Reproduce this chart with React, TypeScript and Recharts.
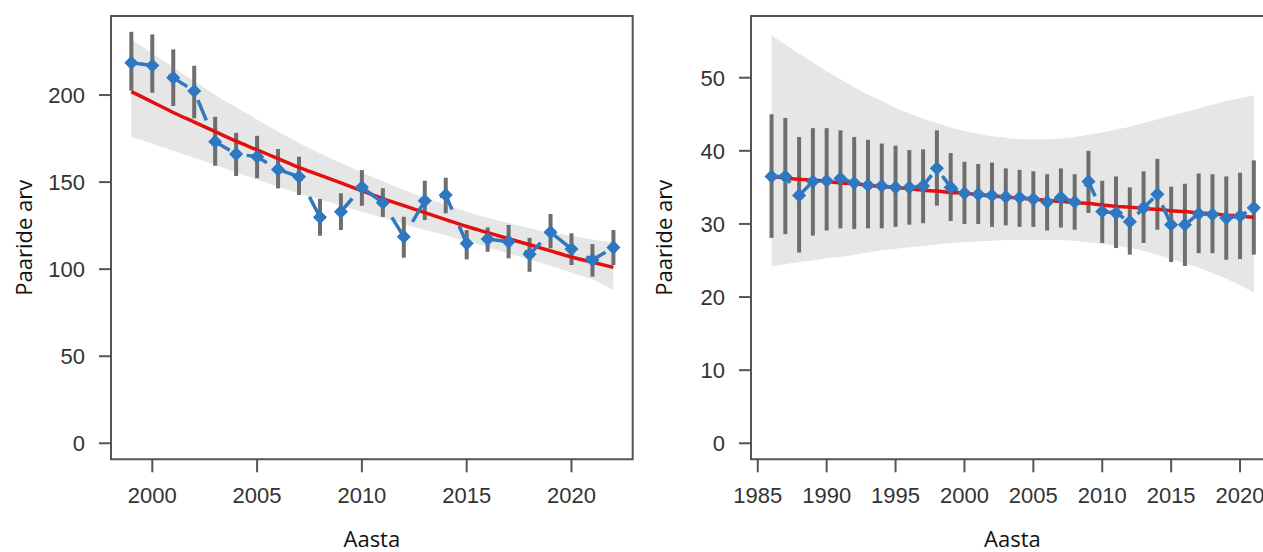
import React from "react";
import {
  ComposedChart,
  Line,
  Area,
  XAxis,
  YAxis,
  ErrorBar,
  ReferenceArea,
} from "recharts";

// --- left panel: 1999-2022 ---
const yearsA = [
  1999, 2000, 2001, 2002, 2003, 2004, 2005, 2006, 2007, 2008, 2009, 2010,
  2011, 2012, 2013, 2014, 2015, 2016, 2017, 2018, 2019, 2020, 2021, 2022,
];
const countA = [
  218.5, 217, 209.9, 202.3, 173.2, 166.1, 164.6, 157.3, 153.1, 129.8, 133, 147,
  138.2, 118.6, 139.3, 142.6, 114.8, 117.3, 115.8, 108.5, 121.2, 111.6, 105.3, 112.5,
];
const lowA = [
  202.5, 201.3, 193.7, 186.6, 159.4, 153.5, 152.2, 146.4, 142.6, 119.2, 122.5, 136.4,
  130, 106.6, 128.2, 132.1, 105.6, 110, 106.2, 98.5, 112, 102.4, 95.7, 102.4,
];
const highA = [
  236.3, 234.8, 226.2, 216.8, 187.5, 178.3, 176.6, 169, 164.6, 140.3, 143.6, 156.9,
  146.5, 130.1, 150.8, 152.5, 122.5, 124, 125.4, 118, 131.7, 120.6, 114.4, 122.5,
];
const fitA = [
  202, 196, 190, 184.5, 179, 173.5, 168.5, 163.5, 158.5, 154, 149.5, 145,
  140.5, 136.5, 132.5, 128.5, 124.5, 121, 117.5, 114, 110.5, 107, 104, 101,
];
const bandLowA = [
  176, 172, 168, 164, 160, 155.5, 151.5, 147.5, 143.5, 140, 136.5, 133,
  129.5, 126, 122.5, 119.5, 116, 112.5, 109, 105.5, 102, 98, 94, 88,
];
const bandHighA = [
  232, 224, 216, 208, 200, 193, 186, 179, 172.5, 166.5, 161, 155.5,
  150.5, 145.5, 141, 137, 133, 129.5, 126.5, 123.5, 121, 119, 117, 115.5,
];
const xTicksA = [2000, 2005, 2010, 2015, 2020];
const yTicksA = [0, 50, 100, 150, 200];

// --- right panel: 1986-2021 ---
const yearsB = [
  1986, 1987, 1988, 1989, 1990, 1991, 1992, 1993, 1994, 1995, 1996, 1997,
  1998, 1999, 2000, 2001, 2002, 2003, 2004, 2005, 2006, 2007, 2008, 2009,
  2010, 2011, 2012, 2013, 2014, 2015, 2016, 2017, 2018, 2019, 2020, 2021,
];
const countB = [
  36.5, 36.5, 33.9, 35.8, 35.9, 36.2, 35.6, 35.3, 35.2, 35.0, 35.0, 35.2,
  37.6, 35.0, 34.2, 34.05, 33.9, 33.7, 33.6, 33.4, 33.0, 33.6, 33.0, 35.8,
  31.7, 31.5, 30.3, 32.2, 34.05, 29.9, 29.9, 31.4, 31.3, 30.8, 31.1, 32.2,
];
const lowB = [
  28.1, 28.6, 26.1, 28.4, 29.1, 29.4, 29.3, 29.4, 29.4, 29.6, 29.9, 30.1,
  32.5, 30.4, 30.0, 30.0, 29.6, 29.8, 29.6, 29.6, 29.1, 29.5, 29.2, 31.5,
  27.4, 26.7, 25.8, 27.4, 29.2, 24.8, 24.25, 26.0, 26.0, 25.1, 25.2, 25.8,
];
const highB = [
  45.0, 44.5, 41.9, 43.1, 43.1, 42.8, 41.9, 41.5, 41.0, 40.7, 40.1, 40.2,
  42.8, 39.7, 38.5, 38.2, 38.4, 37.6, 37.4, 37.2, 36.8, 37.6, 36.8, 40.0,
  35.9, 36.5, 35.0, 37.2, 38.9, 35.1, 35.5, 36.9, 36.8, 36.5, 37.0, 38.7,
];
const fitB = [
  36.5, 36.3, 36.1, 36.0, 35.8, 35.6, 35.5, 35.3, 35.1, 35.0, 34.8, 34.6,
  34.5, 34.3, 34.2, 34.0, 33.8, 33.7, 33.5, 33.4, 33.2, 33.1, 32.9, 32.8,
  32.6, 32.4, 32.3, 32.1, 32.0, 31.8, 31.7, 31.5, 31.4, 31.2, 31.1, 30.9,
];
const bandLowB = [
  24.2, 24.5, 24.8, 25.0, 25.3, 25.5, 25.8, 26.1, 26.4, 26.6, 26.8, 27.0,
  27.2, 27.4, 27.5, 27.6, 27.7, 27.8, 27.8, 27.8, 27.8, 27.8, 27.7, 27.5,
  27.3, 27.0, 26.7, 26.3, 25.8, 25.2, 24.6, 24.0, 23.3, 22.5, 21.6, 20.6,
];
const bandHighB = [
  55.8, 54.5, 53.3, 52.1, 50.9, 49.8, 48.7, 47.7, 46.8, 45.9, 45.1, 44.4,
  43.8, 43.2, 42.7, 42.3, 42.0, 41.8, 41.6, 41.6, 41.6, 41.7, 41.9, 42.2,
  42.5, 42.9, 43.3, 43.8, 44.3, 44.8, 45.3, 45.8, 46.3, 46.8, 47.2, 47.6,
];
const xTicksB = [1985, 1990, 1995, 2000, 2005, 2010, 2015, 2020];
const yTicksB = [0, 10, 20, 30, 40, 50];

const BLUE = "#2F78C0";
const RED = "#E41010";
const GREY_BAR = "#6E6E6E";
const BAND = "#E6E6E6";
const AXIS = "#555555";

function buildRows(
  years: number[],
  count: number[],
  low: number[],
  high: number[],
  fit: number[],
  bLow: number[],
  bHigh: number[]
) {
  return years.map((year, i) => ({
    year,
    v: count[i],
    err: [count[i] - low[i], high[i] - count[i]],
    fit: fit[i],
    band: [bLow[i], bHigh[i]],
  }));
}

const Diamond = (props: any) => {
  const { cx, cy, index } = props;
  if (cx == null || cy == null) return <g key={index} />;
  const r = 6;
  return (
    <path
      key={index}
      d={`M${cx},${cy - r}L${cx + r},${cy}L${cx},${cy + r}L${cx - r},${cy}Z`}
      fill={BLUE}
      stroke={BLUE}
      strokeWidth={1.5}
    />
  );
};

const tickStyle = { fill: "#333", fontSize: 22, fontFamily: "Liberation Sans, Arial, sans-serif" };
const titleFont = "Open Sans, sans-serif";

interface PanelProps {
  rows: any[];
  xDomain: [number, number];
  yDomain: [number, number];
  xTicks: number[];
  yTicks: number[];
  width: number;
  marginRight: number;
}

function Panel({ rows, xDomain, yDomain, xTicks, yTicks, width, marginRight }: PanelProps) {
  return (
    <ComposedChart
      width={width}
      height={552}
      data={rows}
      margin={{ top: 16, right: marginRight, bottom: 0, left: 0 }}
    >
      <XAxis
        type="number"
        dataKey="year"
        domain={xDomain}
        ticks={xTicks}
        allowDataOverflow
        axisLine={false}
        tickLine={{ stroke: AXIS, strokeWidth: 2 }}
        tickSize={13}
        tickMargin={15}
        height={92.7}
        tick={tickStyle}
        label={(p: any) => {
          const vb = p.viewBox;
          return (
            <text
              x={vb.x + vb.width / 2}
              y={vb.y + vb.height - 5}
              textAnchor="middle"
              fill="#111"
              fontSize={22}
              fontFamily={titleFont}
            >
              Aasta
            </text>
          );
        }}
      />
      <YAxis
        type="number"
        domain={yDomain}
        ticks={yTicks}
        allowDataOverflow
        axisLine={false}
        tickLine={{ stroke: AXIS, strokeWidth: 2 }}
        tickSize={12}
        tickMargin={14}
        width={111}
        tick={tickStyle}
        label={(p: any) => {
          const vb = p.viewBox;
          const cx = 23;
          const cy = vb.y + vb.height / 2;
          return (
            <text
              x={cx}
              y={cy}
              transform={`rotate(-90 ${cx} ${cy})`}
              textAnchor="middle"
              dominantBaseline="central"
              fill="#111"
              fontSize={22}
              fontFamily={titleFont}
            >
              Paaride arv
            </text>
          );
        }}
      />
      <Area
        type="monotone"
        dataKey="band"
        fill={BAND}
        fillOpacity={1}
        stroke="none"
        isAnimationActive={false}
        activeDot={false}
      />
      <Line
        type="linear"
        dataKey="v"
        stroke="none"
        dot={false}
        activeDot={false}
        isAnimationActive={false}
      >
        <ErrorBar dataKey="err" width={0} stroke={GREY_BAR} strokeWidth={4} direction="y" />
      </Line>
      <Line
        type="monotone"
        dataKey="fit"
        stroke={RED}
        strokeWidth={3.5}
        dot={false}
        activeDot={false}
        isAnimationActive={false}
      />
      <Line
        type="linear"
        dataKey="v"
        stroke={BLUE}
        strokeWidth={3.5}
        strokeDasharray="22 18"
        dot={Diamond}
        activeDot={false}
        isAnimationActive={false}
      />
      <ReferenceArea
        x1={xDomain[0]}
        x2={xDomain[1]}
        y1={yDomain[0]}
        y2={yDomain[1]}
        fill="none"
        stroke={AXIS}
        strokeWidth={2}
        ifOverflow="visible"
      />
    </ComposedChart>
  );
}

export default function App() {
  const rowsA = buildRows(yearsA, countA, lowA, highA, fitA, bandLowA, bandHighA);
  const rowsB = buildRows(yearsB, countB, lowB, highB, fitB, bandLowB, bandHighB);
  return (
    <div
      style={{
        position: "fixed",
        left: 0,
        top: 0,
        width: 1263,
        height: 552,
        overflow: "hidden",
        background: "#fff",
      }}
    >
      <div style={{ position: "absolute", left: 0, top: 0 }}>
        <Panel
          rows={rowsA}
          xDomain={[1998.03, 2022.92]}
          yDomain={[-9.2, 245.4]}
          xTicks={xTicksA}
          yTicks={yTicksA}
          width={660}
          marginRight={27.3}
        />
      </div>
      <div style={{ position: "absolute", left: 640, top: 0 }}>
        <Panel
          rows={rowsB}
          xDomain={[1984.51, 2022.45]}
          yDomain={[-2.19, 58.44]}
          xTicks={xTicksB}
          yTicks={yTicksB}
          width={660}
          marginRight={26.2}
        />
      </div>
    </div>
  );
}
